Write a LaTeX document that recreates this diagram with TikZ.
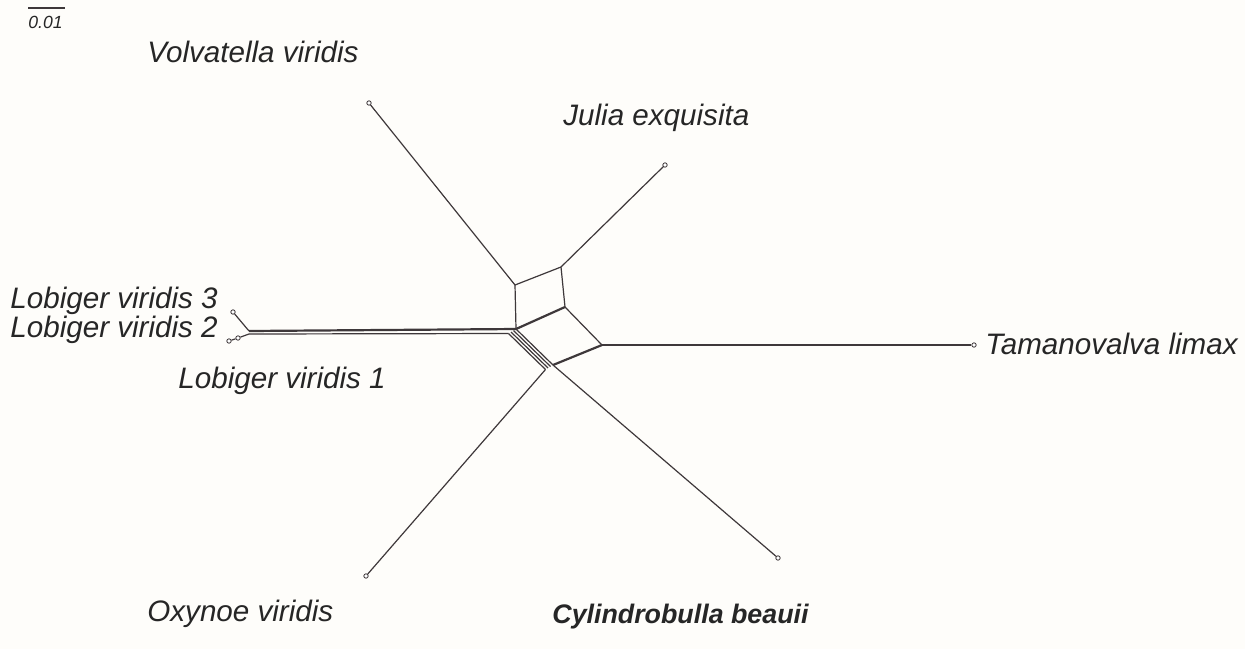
\documentclass[tikz,border=0pt]{standalone}
\usepackage{fontspec}
\setmainfont{Liberation Sans}
\usepackage{tikz}
\usetikzlibrary{positioning}
\definecolor{netline}{RGB}{62,56,58}
\definecolor{paper}{RGB}{254,253,250}
\tikzset{
	tip/.style={circle, draw=netline, fill=white, line width=0.4pt, inner sep=0pt, minimum size=2.2pt},
	taxon/.style={font=\fontsize{14.8}{17}\selectfont\itshape, text=black!85, inner sep=0pt},
	split/.style={draw=netline, line width=0.6pt},
	heavy/.style={draw=netline, line width=1.1pt}
}
\newcommand{\bandline}[1]{
	\coordinate (s#1) at ($(D)+#1*(-2.5,1.5)$);
	\coordinate (t#1) at ($(s#1)+(37,36)$);
	\draw[split] (s#1) -- (t#1);
}
\usetikzlibrary{calc}
\begin{document}
\begin{tikzpicture}[x=0.5pt, y=-0.5pt]
			\fill[paper] (0,0) rectangle (1245,649);
			\useasboundingbox (0,0) rectangle (1245,649);
			% scale bar
			\coordinate (bar1) at (28,8);
			\coordinate (bar2) at (65,8);
			\draw[split] (bar1) -- (bar2);
			\node[taxon, font=\fontsize{8.8}{10}\selectfont\itshape, anchor=base west] (barlabel) at (28,28) {0.01};
			% central box
			\coordinate (A) at (515,285);
			\coordinate (B) at (561,267);
			\coordinate (C) at (565,307);
			\coordinate (D) at (516,329);
			\coordinate (E) at (602,345);
			\coordinate (F) at (553,365);
			\draw[split] (A) -- (B) -- (C);
			\draw[split] (A) -- (D);
			\draw[heavy] (D) -- (C);
			\draw[split] (C) -- (E);
			\draw[heavy] (F) -- (E);
			\bandline{0}
			\bandline{1}
			\bandline{2}
			\bandline{3}
			% Lobiger edge
			\coordinate (Lt) at (249,331);
			\coordinate (Lb) at (249,334);
			\draw[heavy] (Lt) -- (D);
			\draw[split] (Lb) -- (s3);
			% tips
			\node[tip] (volv) at (369,103) {};
			\node[tip] (julia) at (665,165) {};
			\node[tip] (tama) at (974,345) {};
			\node[tip] (cyl) at (778,558) {};
			\node[tip] (oxy) at (366,576) {};
			\node[tip] (lob3) at (233,312) {};
			\node[tip] (lob1) at (238,338) {};
			\node[tip] (lob2) at (229,341) {};
			\draw[split] (volv) -- (A);
			\draw[split] (julia) -- (B);
			\draw[split] (tama) -- (E);
			\draw[split] (cyl) -- (F);
			\draw[split] (oxy) -- (t3);
			\draw[split] (lob3) -- (Lt);
			\draw[split] (lob1) -- (Lb);
			\draw[split] (lob2) -- (lob1);
			% labels
			\node[taxon, anchor=base west] (lvolv) at (147,62) {Volvatella viridis};
			\node[taxon, anchor=base west] (ljulia) at (563,125) {Julia exquisita};
			\node[taxon, anchor=base west] (ltama) at (985,354) {Tamanovalva limax};
			\node[taxon, anchor=base west] (llob3) at (10,308) {Lobiger viridis 3};
			\node[taxon, anchor=base west] (llob2) at (10,337) {Lobiger viridis 2};
			\node[taxon, anchor=base west] (llob1) at (178,388) {Lobiger viridis 1};
			\node[taxon, anchor=base west] (loxy) at (147,621) {Oxynoe viridis};
			\node[taxon, font=\fontsize{13.4}{16}\selectfont\bfseries\itshape, anchor=base west] (lcyl) at (552,623) {Cylindrobulla beauii};
\end{tikzpicture}
\end{document}
